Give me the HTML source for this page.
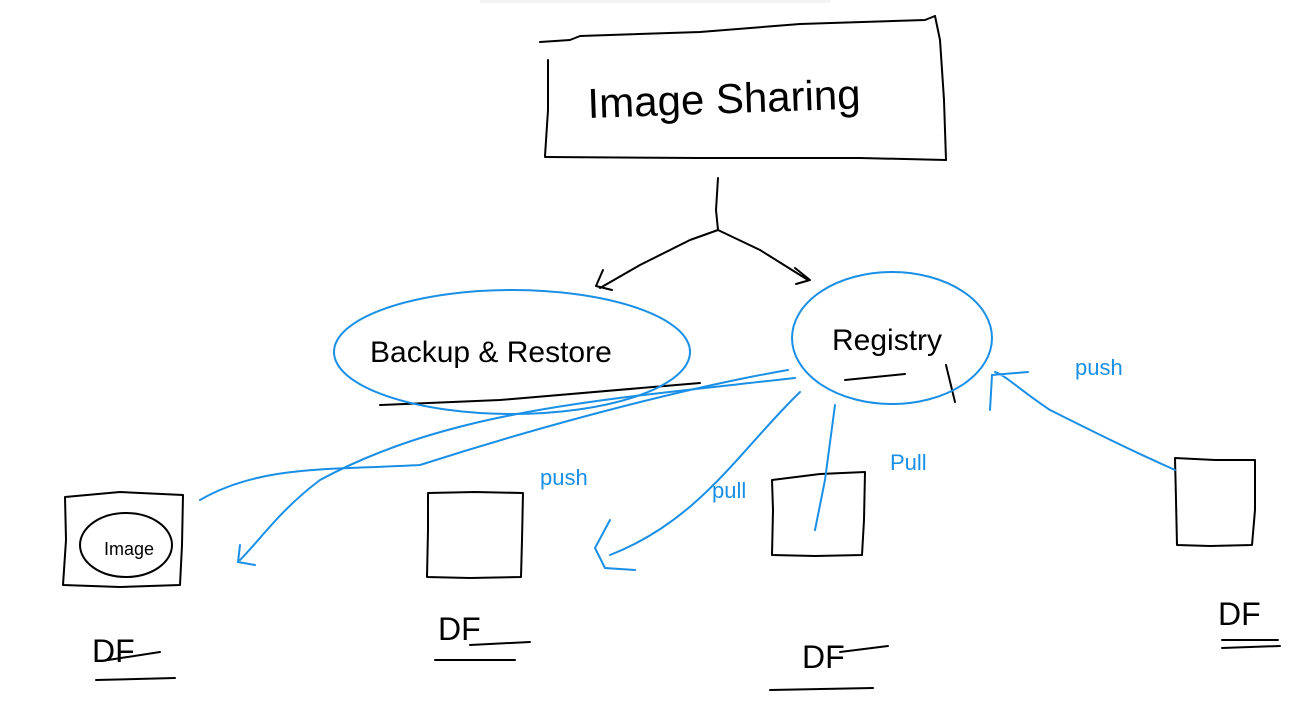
<!DOCTYPE html>
<html><head><meta charset="utf-8"><style>
html,body{margin:0;padding:0;background:#fff;}
svg{display:block}
text{font-family:"Liberation Sans",sans-serif;}
</style></head><body>
<svg width="1310" height="722" viewBox="0 0 1310 722" xmlns="http://www.w3.org/2000/svg">
<rect x="480" y="0" width="350" height="3" fill="#f2f2f2"/>
<g fill="none" stroke="#000" stroke-width="2" stroke-linecap="round" stroke-linejoin="round">
<path d="M540 42 L570 40 L580 36 L700 32 L800 24 L925 20 L935 16"/>
<path d="M935 16 L940 40 L944 100 L946 160"/>
<path d="M548 60 L548 110 L545 156"/>
<path d="M545 157 L700 158 L860 158 L946 160"/>
<path d="M718 178 L716 210 L718 230"/>
<path d="M718 230 L690 240 L640 265 L600 288 M603 270 L596 286 L612 290"/>
<path d="M718 230 L760 250 L808 280 M795 268 L810 280 L796 284"/>
<path d="M65 497 L120 492 L183 495 L182 545 L180 585 L120 587 L63 585 L66 540 Z"/>
<path d="M428 493 L475 492 L523 493 L522 540 L521 577 L470 578 L427 577 L428 530 Z"/>
<path d="M772 480 L820 474 L865 472 L864 520 L862 555 L815 556 L772 555 L773 510 Z"/>
<path d="M1175 458 L1215 460 L1255 460 L1255 510 L1252 545 L1210 546 L1177 545 L1176 500 Z"/>
<ellipse cx="126" cy="545" rx="46" ry="32"/>
<path d="M96 680 L175 678"/><path d="M108 660 L160 652"/>
<path d="M435 660 L515 660"/><path d="M470 645 L530 642"/>
<path d="M770 690 L873 688"/><path d="M840 652 L888 646"/>
<path d="M1222 648 L1280 646"/><path d="M1222 640 L1278 640"/>
<path d="M380 405 L500 400 L700 383"/>
<path d="M845 380 L905 374"/>
<path d="M946 365 L955 402"/>
</g>
<g fill="none" stroke="#1a8fe6" stroke-width="2" stroke-linecap="round">
<ellipse cx="512" cy="352" rx="178" ry="62"/>
<ellipse cx="892" cy="338" rx="100" ry="66"/>
<path d="M200 500 C260 465 330 470 420 465 C560 420 700 385 788 370"/>
<path d="M795 378 C600 400 450 410 320 480 C280 510 260 540 240 560 M240 545 L238 562 L255 565"/>
<path d="M800 392 C740 450 700 520 610 555 M610 520 L595 548 L605 568 L635 570"/>
<path d="M835 405 L825 480 L815 530"/>
<path d="M1175 470 C1130 450 1090 430 1050 410 C1020 390 1005 375 995 372 M990 410 L992 375 L1028 372"/>
</g>
<text x="588" y="118" font-size="42" fill="#000" transform="rotate(-2 588 118)">Image Sharing</text>
<text x="370" y="362" font-size="30" fill="#000">Backup &amp; Restore</text>
<text x="832" y="350" font-size="30" fill="#000">Registry</text>
<text x="104" y="555" font-size="18" fill="#000">Image</text>
<g font-size="32" fill="#000">
<text x="92" y="662">DF</text><text x="438" y="640">DF</text>
<text x="802" y="668">DF</text><text x="1218" y="625">DF</text>
</g>
<g font-size="22" fill="#1a8fe6">
<text x="540" y="485">push</text><text x="712" y="498">pull</text>
<text x="890" y="470">Pull</text><text x="1075" y="375">push</text>
</g>
</svg>
</body></html>
